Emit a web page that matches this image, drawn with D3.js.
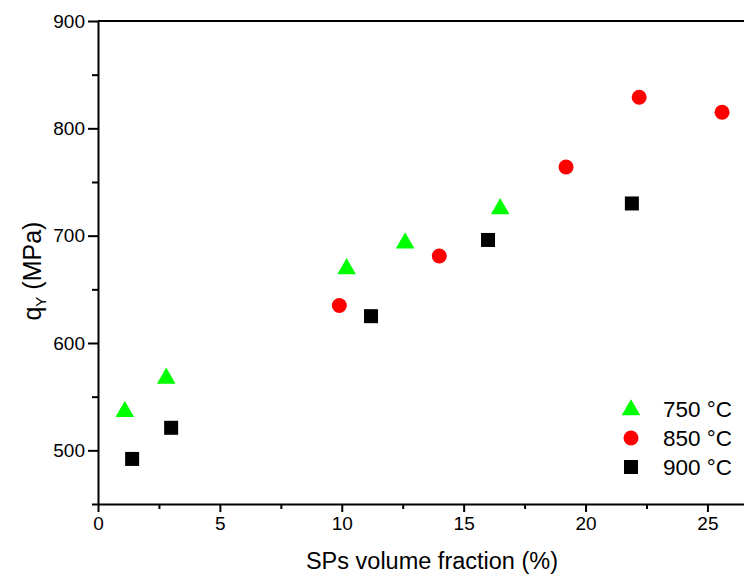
<!DOCTYPE html>
<html>
<head>
<meta charset="utf-8">
<script src="https://cdn.jsdelivr.net/npm/d3@7"></script>
<style>
  body { margin: 0; background: #fff; }
  svg { display: block; font-family: "Liberation Sans", Arial, sans-serif; }
</style>
</head>
<body>
<div id="chart"></div>
<script>
// values
const series750 = [[1.1, 537], [2.8, 568], [10.2, 670], [12.6, 694], [16.5, 726]];
const series850 = [[9.9, 635], [14.0, 681], [19.2, 764], [22.2, 829], [25.6, 815]];
const series900 = [[1.4, 492], [3.0, 521], [11.2, 625], [16.0, 696], [21.9, 730]];
const legendLabels = ["750 °C", "850 °C", "900 °C"];
const xTicks = [0, 5, 10, 15, 20, 25];
const yTicks = [500, 600, 700, 800, 900];

const width = 744, height = 575;
const margins = { top: 21, right: 0, bottom: 71, left: 98 };

const svg = d3.select("#chart").append("svg")
    .attr("width", width)
    .attr("height", height);

const xScale = d3.scaleLinear().domain([0, 26.5]).range([margins.left, width - margins.right]);
const yScale = d3.scaleLinear().domain([450, 900]).range([height - margins.bottom, margins.top]);

// top frame
svg.append("line")
    .attr("x1", margins.left).attr("x2", width)
    .attr("y1", yScale(900)).attr("y2", yScale(900))
    .attr("stroke", "#000").attr("stroke-width", 2);

// x axis (major + minor ticks)
const xAxis = d3.axisBottom(xScale).tickValues(xTicks).tickSize(8).tickPadding(5).tickSizeOuter(0);
svg.append("g")
    .attr("transform", `translate(0,${yScale(450)})`)
    .call(xAxis);
svg.append("g")
    .attr("transform", `translate(0,${yScale(450)})`)
    .call(d3.axisBottom(xScale).tickValues(d3.range(2.5, 26, 5)).tickSize(5).tickFormat("").tickSizeOuter(0))
    .select(".domain").remove();

// y axis
const yAxis = d3.axisLeft(yScale).tickValues(yTicks).tickSize(10).tickPadding(3).tickSizeOuter(0);
svg.append("g")
    .attr("transform", `translate(${margins.left},0)`)
    .call(yAxis);
svg.append("g")
    .attr("transform", `translate(${margins.left},0)`)
    .call(d3.axisLeft(yScale).tickValues([450, 550, 650, 750, 850]).tickSize(6).tickFormat("").tickSizeOuter(0))
    .select(".domain").remove();

svg.selectAll(".domain").attr("stroke-width", 2);
svg.selectAll(".tick line").attr("stroke-width", 2);
svg.selectAll(".tick text").attr("font-size", 19).attr("font-family", "Liberation Sans, Arial, sans-serif").attr("fill", "#000");

// axis titles
svg.append("text")
    .attr("x", xScale(13.7))
    .attr("y", 569)
    .attr("text-anchor", "middle")
    .attr("font-size", 23.5)
    .text("SPs volume fraction (%)");

const yTitle = svg.append("text")
    .attr("transform", `translate(41,${yScale(667)}) rotate(-90)`)
    .attr("text-anchor", "middle")
    .attr("font-size", 25);
yTitle.append("tspan").text("q");
yTitle.append("tspan").attr("font-size", 15).attr("dy", 5).text("Y");
yTitle.append("tspan").attr("dy", -5).text(" (MPa)");

// markers
const triangle = d3.symbol().type(d3.symbolTriangle).size(150);

svg.selectAll(".tri")
    .data(series750)
    .enter()
    .append("path")
    .attr("class", "tri")
    .attr("d", triangle)
    .attr("transform", d => `translate(${xScale(d[0])},${yScale(d[1]) + 1})`)
    .attr("fill", "#00ff00");

svg.selectAll(".dot")
    .data(series850)
    .enter()
    .append("circle")
    .attr("class", "dot")
    .attr("cx", d => xScale(d[0]))
    .attr("cy", d => yScale(d[1]))
    .attr("r", 7.5)
    .attr("fill", "#ff0000");

svg.selectAll(".sq")
    .data(series900)
    .enter()
    .append("rect")
    .attr("class", "sq")
    .attr("x", d => xScale(d[0]) - 7)
    .attr("y", d => yScale(d[1]) - 7)
    .attr("width", 14)
    .attr("height", 14)
    .attr("fill", "#000");

// legend
const legend = svg.append("g").attr("transform", "translate(631,409)");
const rowGap = 29;
legend.append("path").attr("d", triangle).attr("transform", "translate(0,1)").attr("fill", "#00ff00");
legend.append("circle").attr("cx", 0).attr("cy", rowGap).attr("r", 7.5).attr("fill", "#ff0000");
legend.append("rect").attr("x", -7).attr("y", rowGap * 2 - 7).attr("width", 14).attr("height", 14).attr("fill", "#000");
legend.selectAll(".lbl")
    .data(legendLabels)
    .enter()
    .append("text")
    .attr("x", 32)
    .attr("y", (d, i) => i * rowGap + 8)
    .attr("font-size", 22.5)
    .text(d => d);
</script>
</body>
</html>
